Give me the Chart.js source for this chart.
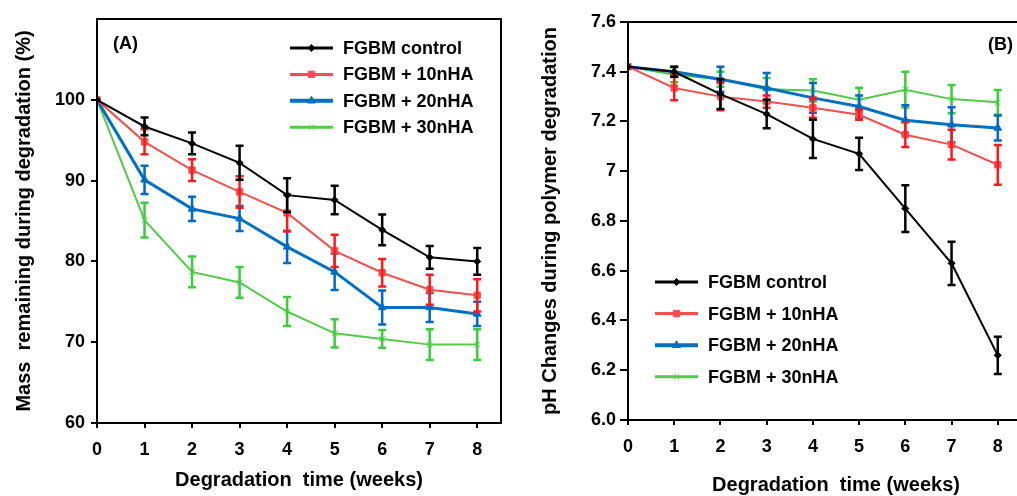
<!DOCTYPE html>
<html>
<head>
<meta charset="utf-8">
<script src="https://cdn.jsdelivr.net/npm/chart.js@4.4.0/dist/chart.umd.min.js"></script>
<style>
  html, body { margin: 0; padding: 0; background: #fff; overflow: hidden; }
  #wrap { position: relative; width: 1017px; height: 496px; overflow: hidden; }
  #chartA { position: absolute; left: 0; top: 0; }
  #chartB { position: absolute; left: 520px; top: 0; }
</style>
</head>
<body>
<div id="wrap">
  <canvas id="chartA" width="510" height="496"></canvas>
  <canvas id="chartB" width="540" height="496"></canvas>
</div>
<script>
// weeks of degradation
let weeks = [0, 1, 2, 3, 4, 5, 6, 7, 8]
let seriesNames = ['FGBM control', 'FGBM + 10nHA', 'FGBM + 20nHA', 'FGBM + 30nHA']

// (A) mass remaining (%)
let massControl = [100, 96.7, 94.6, 92.2, 88.2, 87.6, 83.9, 80.5, 80.0]
let massControlErr = [0, 1.1, 1.35, 2.1, 2.1, 1.75, 1.9, 1.4, 1.65]
let mass10 = [100, 94.8, 91.3, 88.6, 86.0, 81.3, 78.6, 76.5, 75.8]
let mass10Err = [0, 1.55, 1.35, 1.95, 2.3, 2.0, 1.7, 1.85, 2.0]
let mass20 = [100, 90.1, 86.5, 85.3, 81.8, 78.7, 74.3, 74.3, 73.5]
let mass20Err = [0, 1.75, 1.5, 1.55, 2.0, 2.25, 2.1, 1.8, 1.5]
let mass30 = [100, 85.1, 78.7, 77.4, 73.8, 71.1, 70.4, 69.7, 69.7]
let mass30Err = [0, 2.15, 1.9, 1.9, 1.8, 1.75, 1.1, 1.9, 1.9]
let massTicks = [60, 70, 80, 90, 100]

// (B) pH
let pHControl = [7.42, 7.40, 7.31, 7.23, 7.13, 7.07, 6.85, 6.63, 6.26]
let pHControlErr = [0, 0.02, 0.06, 0.057, 0.077, 0.065, 0.094, 0.087, 0.075]
let pH10 = [7.42, 7.335, 7.30, 7.28, 7.255, 7.227, 7.147, 7.107, 7.026]
let pH10Err = [0, 0.05, 0.055, 0.025, 0.04, 0.02, 0.05, 0.06, 0.08]
let pH20 = [7.42, 7.40, 7.37, 7.335, 7.295, 7.26, 7.205, 7.187, 7.174]
let pH20Err = [0, 0.02, 0.05, 0.06, 0.06, 0.045, 0.06, 0.07, 0.05]
let pH30 = [7.42, 7.388, 7.37, 7.33, 7.325, 7.288, 7.328, 7.29, 7.277]
let pH30Err = [0, 0.03, 0.03, 0.045, 0.045, 0.048, 0.072, 0.057, 0.05]
let pHTicks = ['6.0', '6.2', '6.4', '6.6', '6.8', '7', '7.2', '7.4', '7.6']

let FONT = '"Liberation Sans", Arial, sans-serif'

// line colour, error bar colour, width, marker
let styles = [
  { line: '#000000', err: '#000000', width: 2, point: 'rectRot', r: 3.5 },
  { line: '#f24f4f', err: '#ff1a1a', width: 2, point: 'rect', r: 4.5 },
  { line: '#0070c0', err: '#0068c8', width: 3, point: 'triangle', r: 4.5 },
  { line: '#55c94a', err: '#3ccc3c', width: 2, point: 'crossRot', r: 4 },
]

function toPoints(vals) {
  return weeks.map((w, i) => ({ x: w, y: vals[i] }))
}

function makeDatasets(valueLists, errorLists) {
  return valueLists.map((vals, i) => ({
    label: seriesNames[i],
    data: toPoints(vals),
    errors: errorLists[i],
    errColor: styles[i].err,
    borderColor: styles[i].line,
    backgroundColor: styles[i].line,
    borderWidth: styles[i].width,
    pointStyle: styles[i].point,
    pointRadius: styles[i].r,
    pointBorderWidth: 1,
    tension: 0,
  }))
}

// error bars through the chart scales
let errorBars = {
  id: 'errorBars',
  afterDatasetDraw(chart, args) {
    let ds = chart.data.datasets[args.index]
    if (!ds.errors) return
    let ctx = chart.ctx
    let xs = chart.scales.x, ys = chart.scales.y
    ctx.save()
    ctx.strokeStyle = ds.errColor
    ctx.lineWidth = 2.5
    ds.data.forEach((p, i) => {
      let e = ds.errors[i]
      if (!e) return
      let px = xs.getPixelForValue(p.x)
      let top = ys.getPixelForValue(p.y + e)
      let bot = ys.getPixelForValue(p.y - e)
      ctx.beginPath()
      ctx.moveTo(px, top)
      ctx.lineTo(px, bot)
      ctx.moveTo(px - 4, top)
      ctx.lineTo(px + 4, top)
      ctx.moveTo(px - 4, bot)
      ctx.lineTo(px + 4, bot)
      ctx.stroke()
    })
    ctx.restore()
  },
}

// frame, panel letter and in-plot legend
let decor = {
  id: 'decor',
  afterDraw(chart, args, opts) {
    let ctx = chart.ctx
    let a = chart.chartArea
    ctx.save()
    ctx.strokeStyle = '#000'
    ctx.lineWidth = 2
    ctx.strokeRect(a.left, a.top, a.right - a.left, a.bottom - a.top)

    ctx.fillStyle = '#000'
    ctx.font = 'bold 18px ' + FONT
    ctx.textBaseline = 'middle'
    ctx.textAlign = 'left'
    ctx.fillText(opts.tag, opts.tagX, opts.tagY)

    chart.data.datasets.forEach((ds, i) => {
      let y = opts.legY + i * opts.legStep
      ctx.strokeStyle = ds.borderColor
      ctx.lineWidth = ds.borderWidth + 1
      ctx.beginPath()
      ctx.moveTo(opts.legX, y)
      ctx.lineTo(opts.legX + 43, y)
      ctx.stroke()
      ctx.fillStyle = ds.borderColor
      ctx.strokeStyle = ds.borderColor
      ctx.lineWidth = 1
      Chart.helpers.drawPoint(ctx, {
        pointStyle: ds.pointStyle,
        radius: ds.pointRadius,
        rotation: 0,
        borderWidth: 1,
      }, opts.legX + 21.5, y)
      ctx.fillStyle = '#000'
      ctx.fillText(ds.label, opts.legX + 53, y + 1)
    })
    ctx.restore()
  },
}

function makePanel(id, datasets, p) {
  return new Chart(document.getElementById(id), {
    type: 'line',
    data: { datasets: datasets },
    plugins: [errorBars, decor],
    options: {
      responsive: false,
      animation: false,
      devicePixelRatio: 1,
      layout: { padding: { left: 0, right: p.padRight, top: p.padTop, bottom: 0 } },
      plugins: {
        legend: { display: false },
        tooltip: { enabled: false },
        decor: p.decor,
      },
      scales: {
        x: {
          type: 'linear',
          min: 0,
          max: p.xMax,
          afterBuildTicks: axis => {
            axis.ticks = weeks.concat([9]).filter(w => w <= p.xMax).map(w => ({ value: w }))
          },
          afterFit: s => { s.height = p.xHeight },
          border: { display: true, color: '#000', width: 2 },
          grid: { drawOnChartArea: false, drawTicks: true, tickLength: 5, color: '#000', lineWidth: 2 },
          ticks: {
            color: '#000',
            padding: 11,
            maxRotation: 0,
            font: { family: FONT, size: 18, weight: 'bold' },
          },
          title: {
            display: true,
            text: 'Degradation  time (weeks)',
            color: '#000',
            font: { family: FONT, size: 20, weight: 'bold', lineHeight: 1 },
            padding: { top: 0, bottom: p.xTitlePad },
          },
        },
        y: {
          min: p.yMin,
          max: p.yMax,
          afterBuildTicks: axis => {
            axis.ticks = p.yTicks.map(v => ({ value: Number(v) }))
          },
          afterFit: s => { s.width = p.yWidth },
          border: { display: true, color: '#000', width: 2 },
          grid: { drawOnChartArea: false, drawTicks: true, tickLength: p.yTickLen, color: '#000', lineWidth: 2 },
          ticks: {
            color: '#000',
            padding: p.yTickPad,
            font: { family: FONT, size: 18, weight: 'bold' },
            callback: v => p.yLabel(v),
          },
          title: {
            display: true,
            text: p.yTitle,
            color: '#000',
            font: { family: FONT, size: 20, weight: 'bold', lineHeight: 1 },
            padding: { top: p.yTitlePad, bottom: 0 },
          },
        },
      },
    },
  })
}

makePanel('chartA', makeDatasets([massControl, mass10, mass20, mass30],
  [massControlErr, mass10Err, mass20Err, mass30Err]), {
  padRight: 9, padTop: 19, xHeight: 73, xMax: 8.5, xTitlePad: 6,
  yMin: 60, yMax: 110, yTicks: massTicks, yWidth: 97, yTickLen: 6, yTickPad: 6,
  yLabel: v => String(v),
  yTitle: 'Mass  remaining during degradation (%)', yTitlePad: 14,
  decor: { tag: '(A)', tagX: 113, tagY: 44, legX: 290, legY: 48, legStep: 26.4 },
})

makePanel('chartB', makeDatasets([pHControl, pH10, pH20, pH30],
  [pHControlErr, pH10Err, pH20Err, pH30Err]), {
  padRight: 10, padTop: 22, xHeight: 76, xMax: 9, xTitlePad: 1,
  yMin: 6.0, yMax: 7.6, yTicks: pHTicks, yWidth: 108, yTickLen: 8, yTickPad: 4,
  yLabel: v => pHTicks.find(t => Math.abs(Number(t) - v) < 1e-6) || '',
  yTitle: 'pH Changes during polymer degradation', yTitlePad: 20,
  decor: { tag: '(B)', tagX: 468, tagY: 45, legX: 135, legY: 282, legStep: 31.6 },
})
</script>
</body>
</html>
